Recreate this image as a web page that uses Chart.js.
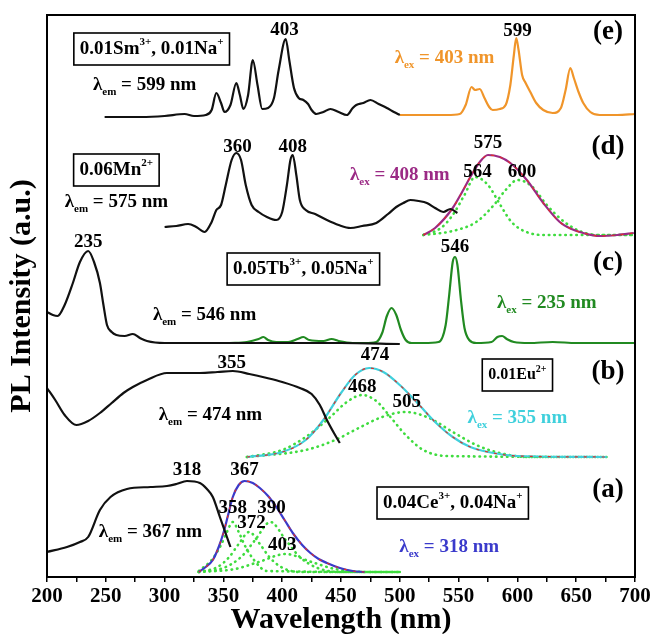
<!DOCTYPE html>
<html>
<head>
<meta charset="utf-8">
<script src="https://cdn.jsdelivr.net/npm/chart.js@4.4.0/dist/chart.umd.min.js"></script>
<style>
  html, body { margin: 0; padding: 0; background: #fff; }
</style>
</head>
<body>
<canvas id="myChart" width="654" height="634"></canvas>
<script>
// ---- data (wavelength in nm, intensity in a.u. incl. stacking offset) ----
// (e) Sm3+, Na+
const smExNm  = [249, 280, 300, 317, 325, 335, 340, 344, 348, 351, 356, 361, 364, 367, 371, 375, 379, 383, 388, 393, 397, 403, 406, 410, 414, 418, 422, 425, 429, 435, 441, 448, 455, 460, 463, 469, 475, 482, 489, 495, 500];
const smExVal = [460, 460, 461, 463, 461, 462, 467, 484, 474, 465, 472, 494, 482, 468, 482, 517, 492, 468, 469, 479, 507, 538, 517, 489, 479, 477, 473, 467, 463, 465, 468, 465, 462, 469, 472, 474, 477, 473, 469, 465, 462];
const smEmNm  = [500, 520, 540, 551, 556, 561, 564, 568, 572, 576, 579, 585, 590, 594, 597, 599, 601, 604, 607, 611, 616, 622, 630, 637, 641, 645, 648, 652, 656, 662, 670, 685, 700];
const smEmVal = [462, 462, 462, 463, 472, 490, 487, 488, 479, 470, 467, 468, 472, 492, 522, 539, 527, 502, 494, 485, 474, 467, 464, 469, 487, 509, 499, 485, 474, 465, 462, 462, 463];

// (d) Mn2+
const mnExNm  = [300, 310, 320, 327, 334, 340, 344, 348, 352, 357, 361, 365, 369, 374, 380, 387, 395, 400, 404, 407, 409, 412, 415, 420, 428, 438, 448, 458, 468, 480, 490, 497, 503, 509, 516, 523, 530, 537, 543, 549];
const mnExVal = [350, 351, 353, 350, 345, 355, 367, 372, 392, 417, 424, 417, 392, 372, 365, 360, 357, 365, 392, 417, 422, 402, 377, 367, 363, 357, 352, 349, 351, 354, 363, 370, 374, 377, 376, 374, 369, 365, 368, 364];
const mnEmNm  = [520, 530, 545, 553, 560, 568, 575, 585, 594, 608, 622, 636, 646, 656, 670, 685, 699];
const mnEmVal = [342, 349, 369, 385, 400, 415, 422, 420, 414, 397, 374, 355, 348, 344, 341, 342, 344];
const mnFit564Nm  = [520, 535, 545, 555, 564, 575, 585, 595, 610, 625, 700];
const mnFit564Val = [342, 349, 362, 382, 400, 392, 373, 355, 344, 342, 342];
const mnFit600Nm  = [520, 545, 565, 580, 590, 600, 612, 625, 640, 655, 670, 700];
const mnFit600Val = [342, 346, 355, 372, 387, 397, 391, 372, 355, 345, 342, 342];

// (c) Tb3+, Na+
const tbExNm  = [200, 205, 209, 215, 222, 228, 235, 240, 245, 248, 251, 255, 259, 266, 273, 279, 285, 300, 330, 400, 450, 500];
const tbExVal = [265, 262, 261, 272, 294, 315, 326, 315, 294, 272, 252, 245, 242, 241, 243, 239, 236, 234, 234, 234, 234, 233];
const tbEmNm  = [355, 370, 380, 384, 388, 395, 405, 413, 418, 423, 435, 442, 448, 460, 470, 480, 485, 489, 493, 497, 501, 505, 510, 520, 533, 539, 542, 545, 547, 549, 552, 555, 559, 565, 578, 583, 587, 591, 597, 610, 630, 650, 700];
const tbEmVal = [234, 235, 238, 240, 237, 235, 235, 238, 240, 237, 236, 238, 236, 234, 234, 235, 244, 261, 269, 262, 247, 237, 234, 234, 235, 252, 282, 315, 320, 312, 277, 249, 237, 234, 235, 240, 241, 238, 235, 234, 235, 234, 234];

// (b) Eu2+
const euExNm  = [200, 207, 215, 225, 235, 245, 255, 265, 273, 285, 302, 315, 330, 345, 358, 372, 387, 400, 415, 425, 432, 438, 444, 449];
const euExVal = [189, 177, 162, 152, 156, 164, 174, 184, 190, 197, 204, 204, 204, 205, 206, 203, 199, 195, 189, 183, 172, 157, 144, 134];
const euEmNm  = [370, 400, 420, 435, 450, 462, 474, 486, 500, 515, 530, 545, 560, 575, 600, 676];
const euEmVal = [120, 125, 137, 157, 184, 202, 209, 205, 192, 174, 155, 140, 130, 125, 121, 120];
const euFit468Nm  = [370, 400, 420, 440, 455, 468, 480, 492, 505, 520, 540, 676];
const euFit468Val = [120, 127, 140, 159, 175, 182, 176, 160, 142, 127, 121, 120];
const euFit505Nm  = [370, 420, 445, 465, 485, 505, 525, 545, 565, 585, 610, 676];
const euFit505Val = [120, 127, 137, 149, 160, 165, 159, 145, 132, 124, 120, 120];

// (a) Ce3+, Na+
const ceExNm  = [200, 217, 228, 235, 245, 254, 268, 288, 302, 310, 319, 330, 336, 341, 347, 353, 356];
const ceExVal = [25, 30, 35, 40, 67, 80, 88, 90, 91, 93, 96, 94, 88, 80, 60, 40, 30];
const ceEmNm  = [329, 335, 341, 346, 350, 354, 358, 363, 368, 375, 381, 388, 395, 402, 409, 417, 424, 431, 438, 449, 460, 470];
const ceEmVal = [5, 10, 17, 30, 44, 62, 80, 92, 96, 94, 89, 81, 70, 57, 44, 32, 24, 18, 14, 9, 6, 5];
const ceFit358Nm  = [329, 340, 348, 353, 358, 363, 368, 376, 387, 500];
const ceFit358Val = [6, 17, 32, 45, 55, 45, 32, 17, 6, 5];
const ceFit372Nm  = [329, 345, 355, 363, 372, 381, 389, 399, 415, 500];
const ceFit372Val = [5, 10, 20, 33, 45, 33, 20, 10, 5, 5];
const ceFit390Nm  = [329, 350, 365, 377, 390, 403, 415, 430, 450, 500];
const ceFit390Val = [5, 9, 20, 37, 55, 37, 20, 9, 5, 5];
const ceFit403Nm  = [329, 360, 380, 403, 425, 445, 475, 500];
const ceFit403Val = [5, 8, 15, 23, 15, 8, 5, 5];

const xTicks = [200, 250, 300, 350, 400, 450, 500, 550, 600, 650, 700];

// ---- text annotations (x in nm, y in a.u.) ----
const notes = [
  { text: '0.01Sm^{3+}, 0.01Na^{+}', x: 289, y: 528, box: true },
  { text: 'λ_{em} = 599 nm', x: 283, y: 492 },
  { text: '403', x: 402, y: 547 },
  { text: '599', x: 600, y: 546 },
  { text: '(e)', x: 677, y: 545, size: 27 },
  { text: 'λ_{ex} = 403 nm', x: 538, y: 519, color: '#f0952a' },

  { text: '0.06Mn^{2+}', x: 259, y: 407, box: true },
  { text: 'λ_{em} = 575 nm', x: 259, y: 375 },
  { text: '360', x: 362, y: 430 },
  { text: '408', x: 409, y: 430 },
  { text: '575', x: 575, y: 434 },
  { text: '564', x: 566, y: 405 },
  { text: '600', x: 604, y: 405 },
  { text: '(d)', x: 677, y: 430, size: 27 },
  { text: 'λ_{ex} = 408 nm', x: 500, y: 402, color: '#9b2a85' },

  { text: '235', x: 235, y: 335 },
  { text: '0.05Tb^{3+}, 0.05Na^{+}', x: 418, y: 308, box: true },
  { text: 'λ_{em} = 546 nm', x: 334, y: 262 },
  { text: '546', x: 547, y: 330 },
  { text: '(c)', x: 677, y: 314, size: 27 },
  { text: 'λ_{ex} = 235 nm', x: 625, y: 274, color: '#218a21' },

  { text: '355', x: 357, y: 214 },
  { text: '474', x: 479, y: 222 },
  { text: '468', x: 468, y: 190 },
  { text: '505', x: 506, y: 175 },
  { text: '0.01Eu^{2+}', x: 600, y: 202, box: true, size: 16 },
  { text: '(b)', x: 677, y: 205, size: 27 },
  { text: 'λ_{ex} = 355 nm', x: 600, y: 159, color: '#3fd0dc' },
  { text: 'λ_{em} = 474 nm', x: 339, y: 162 },

  { text: '318', x: 319, y: 107 },
  { text: '367', x: 368, y: 107 },
  { text: '358', x: 358, y: 69 },
  { text: '390', x: 391, y: 69 },
  { text: '372', x: 374, y: 54 },
  { text: '403', x: 400, y: 32 },
  { text: 'λ_{em} = 367 nm', x: 288, y: 45 },
  { text: '(a)', x: 677, y: 87, size: 27 },
  { text: '0.04Ce^{3+}, 0.04Na^{+}', x: 545, y: 74, box: true },
  { text: 'λ_{ex} = 318 nm', x: 542, y: 30, color: '#3a3acb' }
];

function pts(xs, ys) {
  return xs.map((x, i) => ({ x: x, y: ys[i] }));
}

function solid(xs, ys, color) {
  return {
    data: pts(xs, ys), borderColor: color, borderWidth: 2.2,
    pointRadius: 0, cubicInterpolationMode: 'monotone', fill: false
  };
}
function dotted(xs, ys) {
  return {
    data: pts(xs, ys), borderColor: '#3fdc3f', borderWidth: 2.6,
    borderDash: [0.5, 5], borderCapStyle: 'round',
    pointRadius: 0, cubicInterpolationMode: 'monotone', fill: false
  };
}
function dashedRed(xs, ys) {
  return {
    data: pts(xs, ys), borderColor: '#e0302a', borderWidth: 1.2,
    borderDash: [3, 6], pointRadius: 0, cubicInterpolationMode: 'monotone', fill: false
  };
}

// first in list is drawn on top
const datasets = [
  solid(smExNm, smExVal, '#111'),
  solid(mnExNm, mnExVal, '#111'),
  solid(tbExNm, tbExVal, '#111'),
  solid(euExNm, euExVal, '#111'),
  solid(ceExNm, ceExVal, '#111'),
  dashedRed(mnEmNm, mnEmVal),
  dashedRed(euEmNm, euEmVal),
  dashedRed(ceEmNm, ceEmVal),
  solid(smEmNm, smEmVal, '#f0952a'),
  solid(mnEmNm, mnEmVal, '#9b2a85'),
  solid(tbEmNm, tbEmVal, '#218a21'),
  solid(euEmNm, euEmVal, '#3fd0dc'),
  solid(ceEmNm, ceEmVal, '#3a3acb'),
  dotted(mnFit564Nm, mnFit564Val),
  dotted(mnFit600Nm, mnFit600Val),
  dotted(euFit468Nm, euFit468Val),
  dotted(euFit505Nm, euFit505Val),
  dotted(ceFit358Nm, ceFit358Val),
  dotted(ceFit372Nm, ceFit372Val),
  dotted(ceFit390Nm, ceFit390Val),
  dotted(ceFit403Nm, ceFit403Val)
];

function parseRich(s) {
  const segs = [];
  const re = /([_^])\{([^}]*)\}/g;
  let last = 0, m;
  while ((m = re.exec(s))) {
    if (m.index > last) segs.push({ t: s.slice(last, m.index), k: 'n' });
    segs.push({ t: m[2], k: m[1] === '_' ? 'sub' : 'sup' });
    last = re.lastIndex;
  }
  if (last < s.length) segs.push({ t: s.slice(last), k: 'n' });
  return segs;
}

const notesPlugin = {
  id: 'notes',
  afterDatasetsDraw(chart) {
    const ctx = chart.ctx;
    const xs = chart.scales.x, ys = chart.scales.y;
    const a = chart.chartArea;
    ctx.save();
    ctx.strokeStyle = '#000';
    ctx.lineWidth = 2;
    ctx.strokeRect(a.left, a.top, a.right - a.left, a.bottom - a.top);

    notes.forEach(n => {
      const size = n.size || 19;
      const segs = parseRich(n.text);
      const fontFor = k => 'bold ' + (k === 'n' ? size : Math.round(size * 0.6)) + 'px "Liberation Serif", serif';
      let w = 0;
      segs.forEach(s => { ctx.font = fontFor(s.k); s.w = ctx.measureText(s.t).width; w += s.w; });
      const cx = xs.getPixelForValue(n.x), cy = ys.getPixelForValue(n.y);
      let x = cx - w / 2;
      ctx.fillStyle = n.color || '#000';
      ctx.textBaseline = 'middle';
      ctx.textAlign = 'left';
      segs.forEach(s => {
        ctx.font = fontFor(s.k);
        const dy = s.k === 'sub' ? size * 0.4 : (s.k === 'sup' ? -size * 0.35 : 0);
        ctx.fillText(s.t, x, cy + dy);
        x += s.w;
      });
      if (n.box) {
        ctx.lineWidth = 1.6;
        ctx.strokeStyle = '#000';
        ctx.strokeRect(cx - w / 2 - 6, cy - 16, w + 12, 32);
      }
    });
    ctx.restore();
  }
};

const config = {
  type: 'line',
  data: { datasets: datasets },
  options: {
    responsive: false,
    animation: false,
    devicePixelRatio: 1,
    layout: { padding: { top: 15, right: 19, left: 0, bottom: 0 } },
    plugins: { legend: { display: false }, tooltip: { enabled: false } },
    scales: {
      x: {
        type: 'linear', min: 200, max: 700,
        afterFit: axis => { axis.height = 57; },
        afterBuildTicks: axis => {
          const t = [];
          for (let v = 200; v <= 700; v += 25) t.push({ value: v });
          axis.ticks = t;
        },
        ticks: {
          autoSkip: false, maxRotation: 0, padding: 2, color: '#000',
          font: { family: '"Liberation Serif", serif', size: 21, weight: 'bold' },
          callback: v => (xTicks.includes(v) ? String(v) : '')
        },
        grid: { drawOnChartArea: false, drawTicks: true, tickLength: 5, color: '#000', lineWidth: 1.5 },
        border: { display: true, color: '#000', width: 2 },
        title: {
          display: true, text: 'Wavelength (nm)', color: '#000',
          font: { family: '"Liberation Serif", serif', size: 30, weight: 'bold' },
          padding: { top: 0, bottom: -4 }
        }
      },
      y: {
        type: 'linear', min: 0, max: 562,
        afterFit: axis => { axis.width = 47; },
        ticks: { display: false },
        grid: { display: false },
        border: { display: true, color: '#000', width: 2 },
        title: {
          display: true, text: 'PL Intensity (a.u.)', color: '#000',
          font: { family: '"Liberation Serif", serif', size: 30, weight: 'bold' },
          padding: { top: 4, bottom: 0 }
        }
      }
    }
  },
  plugins: [notesPlugin]
};

new Chart(document.getElementById('myChart'), config);
</script>
</body>
</html>
